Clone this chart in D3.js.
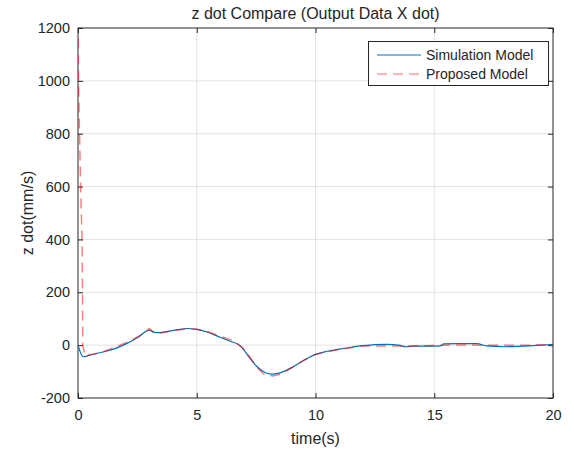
<!DOCTYPE html>
<html><head><meta charset="utf-8">
<script src="https://cdn.jsdelivr.net/npm/d3@7"></script>
<style>body{margin:0;background:#fff}text{font-family:"Liberation Sans",Arial,sans-serif;fill:#262626}</style>
</head><body><svg id="c" width="574" height="452"></svg>
<script>
const xTicks=[0,5,10,15,20];
const yTicks=[-200,0,200,400,600,800,1000,1200];
const simT=[0,0.22,0.5,1.0,1.5,2.0,2.5,3.0,3.15,3.3,3.6,3.9,4.3,4.6,5.0,5.5,6.0,6.5,6.8,7.0,7.2,7.5,7.8,8.15,8.5,9.0,9.5,10.0,10.5,11.0,11.5,12.0,12.5,13.0,13.5,13.8,14.2,15.0,15.3,15.4,16.0,16.8,17.2,18.0,18.5,19.0,19.5,20.0];
const simV=[0,-44,-38,-27,-15,4,28,57,50,47,49,54,60,63,60,48,29,12,0,-20,-45,-78,-100,-110,-105,-85,-58,-35,-23,-15,-8,-2,2,3,0,-6,-4,-4,-2,5,6,6,-3,-6,-5,-3,0,3];
const propT=[0,0.02,0.06,0.11,0.17,0.19,0.2,0.3,1.0,2.0,2.8,3.0,3.2,3.5,4.0,4.6,5.0,5.5,6.0,6.5,6.96,7.2,7.5,7.8,8.2,8.6,9.0,9.5,10.0,11.0,12.0,13.0,14.0,15.0,16.0,17.0,18.0,19.0,20.0];
const propV=[1160,1000,815,600,397,200,0,-40,-27,8,45,63,48,46,55,62,60,50,33,18,-12,-40,-80,-108,-117,-108,-85,-58,-35,-16,-3,-3,-3,-1,1,0,0,0,1];

const svg=d3.select("#c");
const L=78,R=553,T=28,B=398;
const x=d3.scaleLinear().domain([0,20]).range([L,R]);
const y=d3.scaleLinear().domain([-200,1200]).range([B,T]);
const ax="#262626";
svg.append("g").selectAll("line").data(xTicks.slice(1,-1)).join("line")
 .attr("x1",d=>x(d)).attr("x2",d=>x(d)).attr("y1",T).attr("y2",B).attr("stroke","#e3e3e3");
svg.append("g").selectAll("line").data(yTicks.slice(1,-1)).join("line")
 .attr("y1",d=>y(d)).attr("y2",d=>y(d)).attr("x1",L).attr("x2",R).attr("stroke","#e3e3e3");
const fs="14.5px";
const fmt=d=>String(d);
const gx=svg.append("g").attr("transform",`translate(0,${B})`).call(d3.axisBottom(x).tickValues(xTicks).tickFormat(fmt).tickSize(-5).tickPadding(10).tickSizeOuter(0));
const gy=svg.append("g").attr("transform",`translate(${L},0)`).call(d3.axisLeft(y).tickValues(yTicks).tickFormat(fmt).tickSize(-5).tickPadding(8).tickSizeOuter(0));
svg.append("g").attr("transform",`translate(0,${T})`).call(d3.axisTop(x).tickValues(xTicks).tickSize(-5).tickFormat("").tickSizeOuter(0));
svg.append("g").attr("transform",`translate(${R},0)`).call(d3.axisRight(y).tickValues(yTicks).tickSize(-5).tickFormat("").tickSizeOuter(0));
svg.selectAll(".domain").remove();
svg.selectAll(".tick line").attr("stroke",ax);
svg.selectAll(".tick text").attr("font-size",fs).attr("fill",ax).style("font-family","'Liberation Sans',Arial,sans-serif");
gx.selectAll(".tick text").attr("dy","0.8em");
svg.append("rect").attr("x",L).attr("y",T).attr("width",R-L).attr("height",B-T).attr("fill","none").attr("stroke",ax).attr("stroke-width",1);
svg.append("clipPath").attr("id","cp").append("rect").attr("x",L).attr("y",T).attr("width",R-L).attr("height",B-T);
const line=d3.line().x(d=>x(d[0])).y(d=>y(d[1])).curve(d3.curveMonotoneX);
const sim=simT.map((t,i)=>[t,simV[i]]);
const prop=propT.map((t,i)=>[t,propV[i]]);
const g=svg.append("g").attr("clip-path","url(#cp)");
g.append("path").attr("d",line(sim)).attr("fill","none").attr("stroke","#0072BD").attr("stroke-width",1.2);
g.append("path").attr("d",d3.line().x(d=>x(d[0])).y(d=>y(d[1]))(prop)).attr("fill","none").attr("stroke","rgba(255,0,0,0.5)").attr("stroke-width",1.5).attr("stroke-dasharray","10,6");
svg.append("text").attr("x",(L+R)/2).attr("y",19).attr("text-anchor","middle").attr("font-size","16px").text("z dot Compare (Output Data X dot)");
svg.append("text").attr("x",(L+R)/2).attr("y",444).attr("text-anchor","middle").attr("font-size","16px").text("time(s)");
svg.append("text").attr("transform",`translate(33,${(T+B)/2}) rotate(-90)`).attr("text-anchor","middle").attr("font-size","16px").text("z dot(mm/s)");
const lg=svg.append("g");
lg.append("rect").attr("x",368.5).attr("y",41.5).attr("width",180).attr("height",44).attr("fill","#fff").attr("stroke",ax);
const items=[{n:"Simulation Model",c:"#0072BD",d:null,w:1.2},{n:"Proposed Model",c:"rgba(255,0,0,0.4)",d:"10,6",w:1.5}];
items.forEach((it,i)=>{
 const yy=55+i*19;
 lg.append("line").attr("x1",377).attr("x2",421).attr("y1",yy).attr("y2",yy).attr("stroke",it.c).attr("stroke-width",it.w).attr("stroke-dasharray",it.d);
 lg.append("text").attr("x",426).attr("y",yy+5).attr("font-size","14px").text(it.n);
});
</script></body></html>
